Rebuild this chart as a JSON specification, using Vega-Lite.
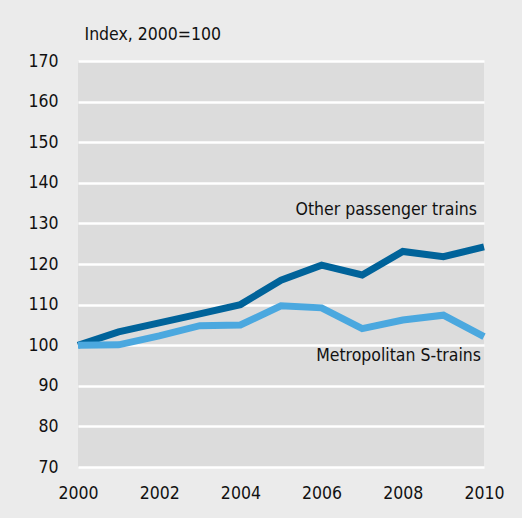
{
  "$schema": "https://vega.github.io/schema/vega-lite/v6.json",
  "width": 406,
  "height": 406,
  "autosize": {"type": "none"},
  "padding": {"left": 78, "top": 61, "right": 38, "bottom": 51},
  "background": "#ebebeb",
  "config": {
    "view": {"fill": "#dcdcdc", "stroke": null},
    "font": "DejaVu Sans Condensed, Roboto, sans-serif",
    "axis": {"labelFont": "DejaVu Sans Condensed, Roboto, sans-serif", "titleFont": "DejaVu Sans Condensed, Roboto, sans-serif", "labelColor": "#111", "titleColor": "#111", "labelFontSize": 17.5, "titleFontSize": 17.5, "titleFontWeight": "normal", "domain": false, "ticks": false}
  },
  "datasets": {
    "series": [
      {"year": 2000, "value": 100, "series": "Other passenger trains"},
      {"year": 2001, "value": 103.3, "series": "Other passenger trains"},
      {"year": 2002, "value": 105.5, "series": "Other passenger trains"},
      {"year": 2003, "value": 107.7, "series": "Other passenger trains"},
      {"year": 2004, "value": 110, "series": "Other passenger trains"},
      {"year": 2005, "value": 116, "series": "Other passenger trains"},
      {"year": 2006, "value": 119.7, "series": "Other passenger trains"},
      {"year": 2007, "value": 117.3, "series": "Other passenger trains"},
      {"year": 2008, "value": 123.1, "series": "Other passenger trains"},
      {"year": 2009, "value": 121.8, "series": "Other passenger trains"},
      {"year": 2010, "value": 124.2, "series": "Other passenger trains"},
      {"year": 2000, "value": 100, "series": "Metropolitan S-trains"},
      {"year": 2001, "value": 100.1, "series": "Metropolitan S-trains"},
      {"year": 2002, "value": 102.3, "series": "Metropolitan S-trains"},
      {"year": 2003, "value": 104.8, "series": "Metropolitan S-trains"},
      {"year": 2004, "value": 105, "series": "Metropolitan S-trains"},
      {"year": 2005, "value": 109.7, "series": "Metropolitan S-trains"},
      {"year": 2006, "value": 109.2, "series": "Metropolitan S-trains"},
      {"year": 2007, "value": 104.1, "series": "Metropolitan S-trains"},
      {"year": 2008, "value": 106.2, "series": "Metropolitan S-trains"},
      {"year": 2009, "value": 107.4, "series": "Metropolitan S-trains"},
      {"year": 2010, "value": 102.1, "series": "Metropolitan S-trains"}
    ],
    "labels": [
      {"year": 2009.9, "value": 133.3, "label": "Other passenger trains"},
      {"year": 2010, "value": 97.3, "label": "Metropolitan S-trains"}
    ]
  },
  "layer": [
    {
      "data": {"name": "series"},
      "mark": {"type": "line", "strokeWidth": 7, "strokeJoin": "miter", "strokeCap": "butt"},
      "encoding": {
        "x": {"field": "year", "type": "quantitative", "scale": {"domain": [2000, 2010], "nice": false},
          "axis": {"values": [2000, 2002, 2004, 2006, 2008, 2010], "format": "d", "grid": false, "labelPadding": 17, "title": null, "labelFlush": false}},
        "y": {"field": "value", "type": "quantitative", "scale": {"domain": [70, 170], "nice": false, "zero": false},
          "axis": {"values": [70, 80, 90, 100, 110, 120, 130, 140, 150, 160, 170], "grid": true, "gridColor": "#ffffff", "gridWidth": 2.5, "gridOpacity": 1, "labelPadding": 20,
            "title": "Index, 2000=100", "titleAngle": 0, "titleAlign": "left", "titleBaseline": "middle", "titleX": 6, "titleY": -27}},
        "color": {"field": "series", "type": "nominal", "scale": {"domain": ["Other passenger trains", "Metropolitan S-trains"], "range": ["#00639a", "#4ba8df"]}, "legend": null}
      }
    },
    {
      "data": {"name": "labels"},
      "mark": {"type": "text", "align": "right", "baseline": "middle", "fontSize": 17.5, "dx": -3, "color": "#111", "font": "DejaVu Sans Condensed, Roboto, sans-serif"},
      "encoding": {
        "x": {"field": "year", "type": "quantitative"},
        "y": {"field": "value", "type": "quantitative"},
        "text": {"field": "label"}
      }
    }
  ]
}
